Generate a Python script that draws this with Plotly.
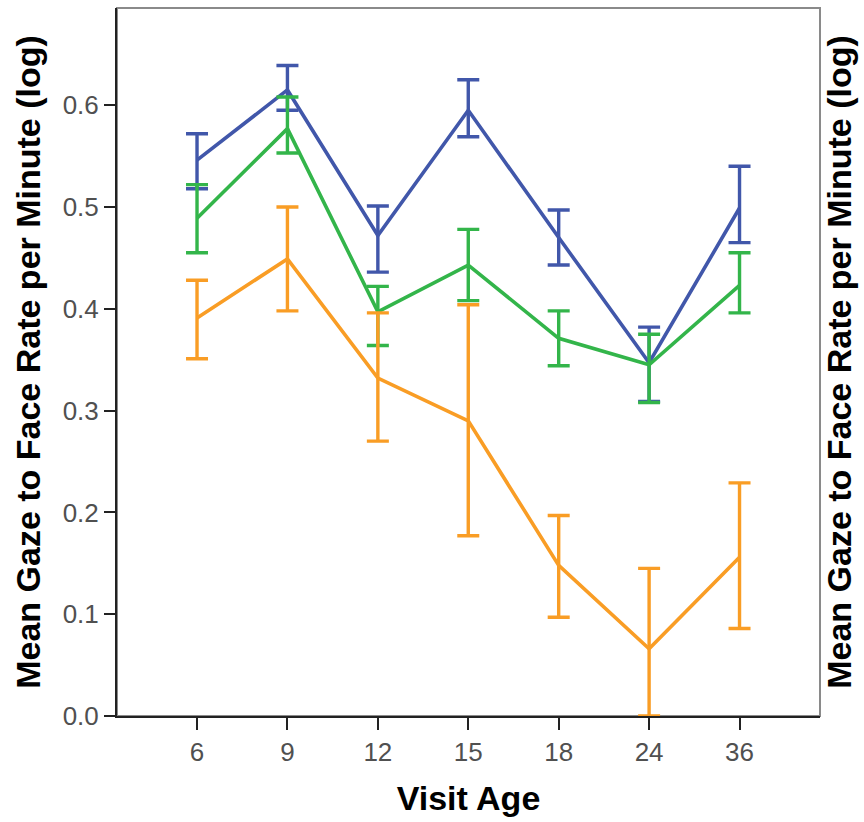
import plotly.graph_objects as go

# Visit ages (months) shown as evenly spaced categories
visit_age = ["6", "9", "12", "15", "18", "24", "36"]

# Mean log gaze-to-face rate per group, with upper/lower error limits
blue_mean = [0.546, 0.615, 0.472, 0.595, 0.470, 0.347, 0.499]
blue_upper = [0.572, 0.639, 0.501, 0.625, 0.497, 0.382, 0.540]
blue_lower = [0.518, 0.595, 0.436, 0.569, 0.443, 0.309, 0.465]

green_mean = [0.489, 0.577, 0.397, 0.443, 0.371, 0.345, 0.423]
green_upper = [0.522, 0.608, 0.422, 0.478, 0.398, 0.375, 0.455]
green_lower = [0.455, 0.553, 0.364, 0.408, 0.344, 0.308, 0.396]

orange_mean = [0.391, 0.449, 0.332, 0.290, 0.148, 0.066, 0.156]
orange_upper = [0.428, 0.500, 0.396, 0.404, 0.197, 0.145, 0.229]
orange_lower = [0.351, 0.398, 0.270, 0.177, 0.097, 0.000, 0.086]

y_ticks = [0.0, 0.1, 0.2, 0.3, 0.4, 0.5, 0.6]

series = [
    ("Blue", "#4157aa", blue_mean, blue_upper, blue_lower),
    ("Green", "#33b54a", green_mean, green_upper, green_lower),
    ("Orange", "#f99d25", orange_mean, orange_upper, orange_lower),
]

fig = go.Figure()
for name, color, mean, upper, lower in series:
    fig.add_trace(go.Scatter(
        x=visit_age,
        y=mean,
        mode="lines",
        name=name,
        line=dict(color=color, width=3.6),
        error_y=dict(
            type="data",
            symmetric=False,
            array=[u - m for u, m in zip(upper, mean)],
            arrayminus=[m - l for m, l in zip(mean, lower)],
            color=color,
            thickness=3.4,
            width=11,
        ),
        showlegend=False,
    ))

# Invisible trace so the right-hand axis carries its title
fig.add_trace(go.Scatter(x=visit_age, y=orange_mean, yaxis="y2",
                         mode="lines", line=dict(width=0),
                         opacity=0, hoverinfo="skip", showlegend=False))

axis_title_font = dict(family="Liberation Sans, Arial, sans-serif",
                       size=34, color="black")
tick_font = dict(family="Liberation Sans, Arial, sans-serif",
                 size=26, color="#505050")
y_title = "<b>Mean Gaze to Face Rate per Minute (log)</b>"

fig.update_layout(
    width=864,
    height=822,
    margin=dict(l=117, r=44, t=8, b=106),
    paper_bgcolor="white",
    plot_bgcolor="white",
    xaxis=dict(
        type="category",
        categoryorder="array",
        categoryarray=visit_age,
        range=[-0.885, 6.89],
        showgrid=False,
        zeroline=False,
        showline=True,
        linecolor="#222222",
        linewidth=2,
        ticks="outside",
        ticklen=12,
        tickwidth=2,
        tickcolor="#222222",
        tickfont=tick_font,
        title=dict(text="<b>Visit Age</b>", font=axis_title_font, standoff=20),
    ),
    yaxis=dict(
        range=[0, 0.6955],
        tickvals=y_ticks,
        ticktext=[f"{v:.1f}" for v in y_ticks],
        showgrid=False,
        zeroline=False,
        showline=True,
        linecolor="#222222",
        linewidth=2,
        ticks="outside",
        ticklen=11,
        tickwidth=2,
        tickcolor="#222222",
        tickfont=tick_font,
        title=dict(text=y_title, font=axis_title_font, standoff=12),
    ),
    yaxis2=dict(
        overlaying="y",
        side="right",
        range=[0, 0.6955],
        showgrid=False,
        zeroline=False,
        showline=False,
        showticklabels=False,
        ticks="",
        title=dict(text=y_title, font=axis_title_font, standoff=7),
    ),
    shapes=[dict(
        type="rect", xref="paper", yref="paper", x0=0, x1=1, y0=0, y1=1,
        line=dict(color="#8a8a8a", width=2), layer="below",
    )],
)

fig.write_html("out.html")
